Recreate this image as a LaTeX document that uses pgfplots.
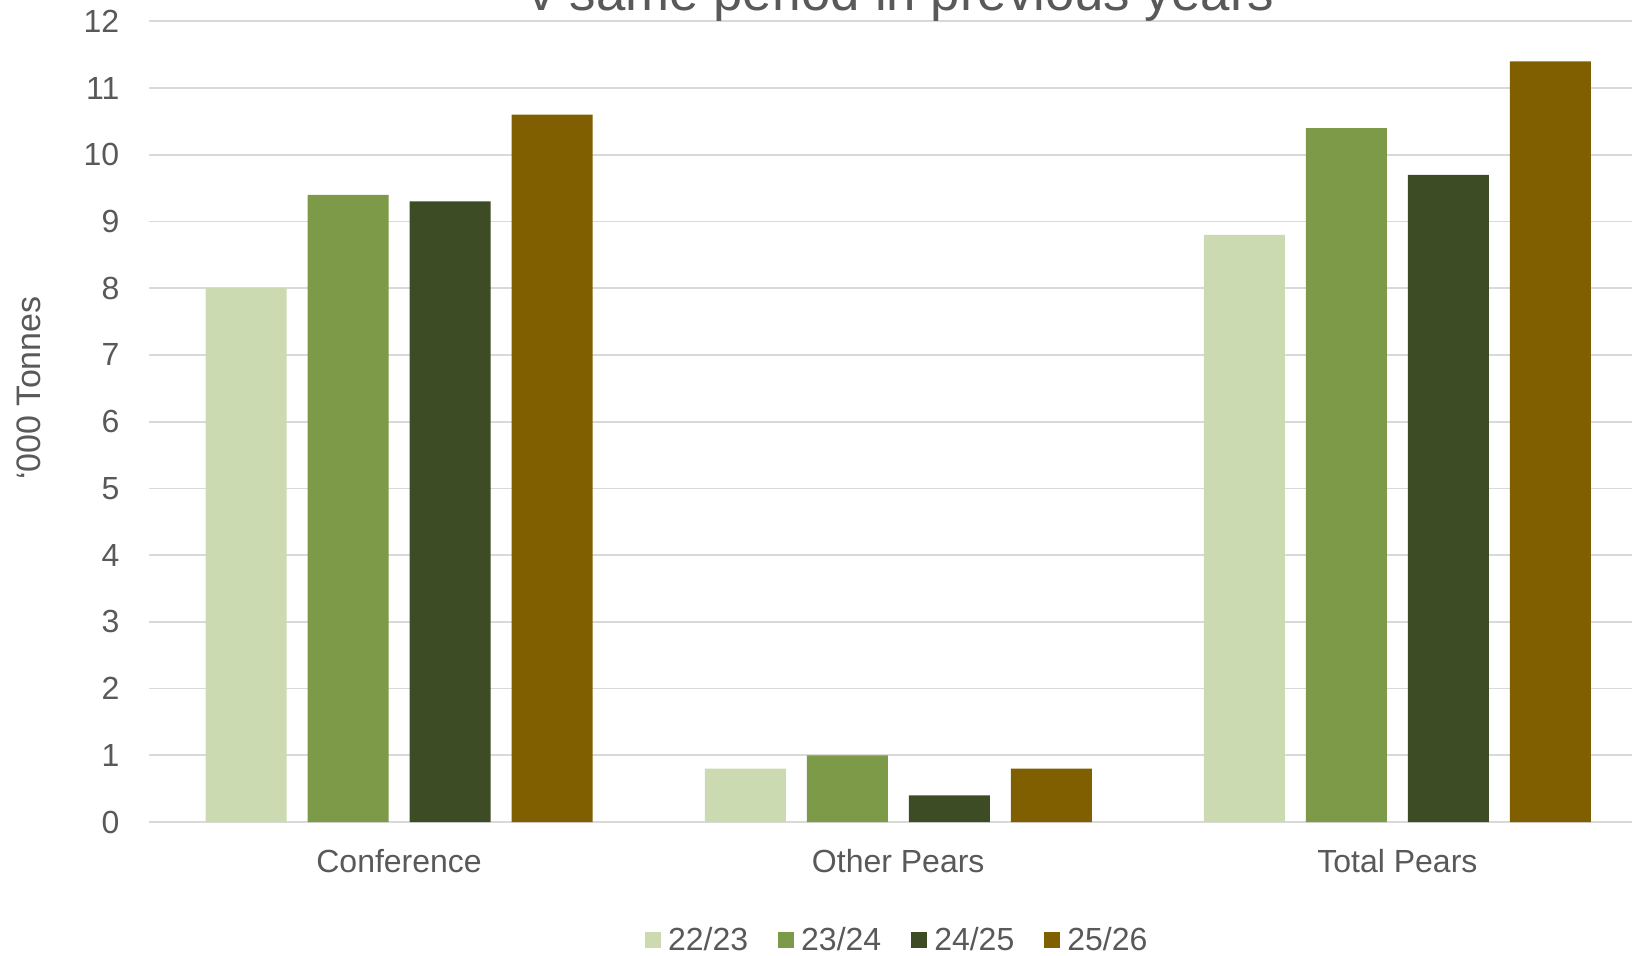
\documentclass[border=0pt]{standalone}
\usepackage{pgfplots}
\pgfplotsset{compat=1.18}
\usepackage{fontspec}
\setmainfont{Liberation Sans}
\definecolor{txt}{HTML}{595959}
\definecolor{gridc}{HTML}{D9D9D9}
\definecolor{cA}{HTML}{CBDAB0}
\definecolor{cB}{HTML}{7C9A48}
\definecolor{cC}{HTML}{3D4C24}
\definecolor{cD}{HTML}{7F5F00}
\begin{document}
\begin{tikzpicture}
\begin{axis}[
  at={(0pt,0pt)}, anchor=south west,
  scale only axis,
  width=748.75pt, height=400.35pt,
  ymin=0, ymax=12, ytick={0,1,...,12},
  xmin=-0.5, xmax=2.5,
  xtick={0,1,2},
  xticklabels={Conference,Other Pears,Total Pears},
  ybar=10.5pt, bar width=40.5pt,
  axis line style={draw=none},
  major tick length=0pt,
  ymajorgrids, major grid style={draw=gridc, line width=0.85pt},
  /pgf/number format/assume math mode=true,
  tick label style={font=\fontsize{16}{19}\selectfont, text=txt},
  yticklabel style={inner sep=0pt, anchor=east, xshift=-14.9pt},
  xticklabel style={inner sep=0pt, anchor=north, yshift=-13.5pt},
  ylabel={‘000 Tonnes},
  ylabel style={at={(axis description cs:-0.0805,0.542)}, anchor=center, font=\fontsize{17}{20}\selectfont, text=txt},
  legend columns=4,
  legend style={at={(axis description cs:0.501,-0.1474)}, anchor=center, draw=none, fill=none,
    font=\fontsize{16}{19}\selectfont, text=txt,
    /tikz/every even column/.append style={column sep=11.5pt},
    nodes={inner sep=3.5pt}},
  legend image code/.code={\fill[#1] (0pt,-4pt) rectangle (8pt,4pt);},
]
\addplot[fill=cA, draw=none] coordinates {(0,8.0) (1,0.8) (2,8.8)};
\addplot[fill=cB, draw=none] coordinates {(0,9.4) (1,1.0) (2,10.4)};
\addplot[fill=cC, draw=none] coordinates {(0,9.3) (1,0.4) (2,9.7)};
\addplot[fill=cD, draw=none] coordinates {(0,10.6) (1,0.8) (2,11.4)};
\legend{22/23,23/24,24/25,25/26}
\end{axis}
\node[anchor=base, text=txt, font=\fontsize{26.4}{31}\selectfont] at (376pt,405.5pt) {v same period in previous years};
\pgfresetboundingbox
\useasboundingbox (-74.75pt,-66.5pt) rectangle (741.25pt,411pt);
\end{tikzpicture}
\end{document}
